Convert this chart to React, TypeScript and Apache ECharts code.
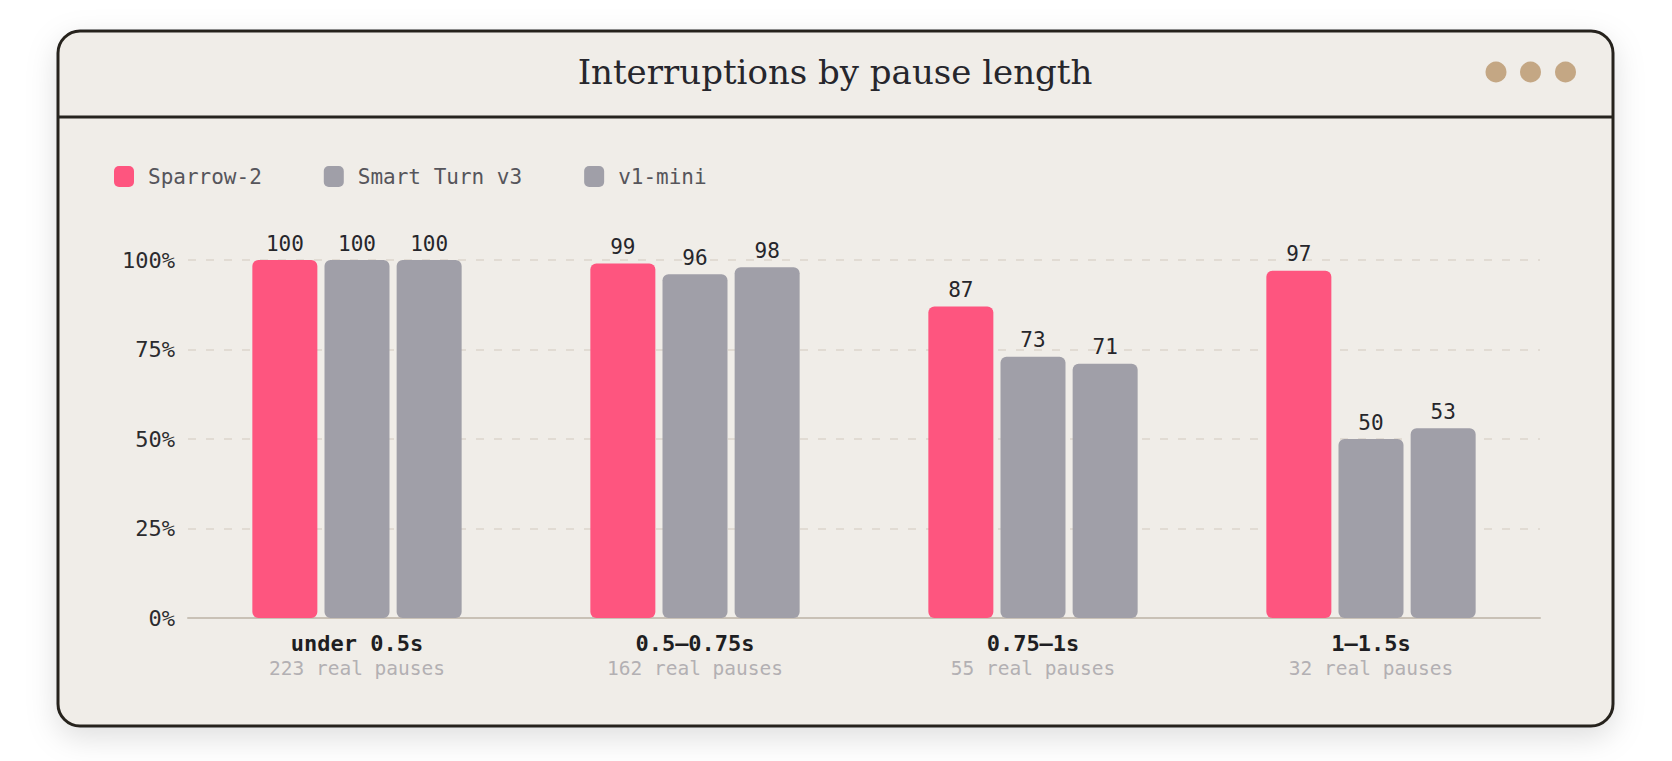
import React, { useEffect, useRef } from 'react';
import * as echarts from 'echarts';

const categories = ['under 0.5s', '0.5–0.75s', '0.75–1s', '1–1.5s'];
const pauseCounts = ['223 real pauses', '162 real pauses', '55 real pauses', '32 real pauses'];
const seriesNames = ['Sparrow-2', 'Smart Turn v3', 'v1-mini'];
const sparrow2 = [100, 99, 87, 97];
const smartTurnV3 = [100, 96, 73, 50];
const v1Mini = [100, 98, 71, 53];
const yMin = 0;
const yMax = 100;
const yInterval = 25;
const titleText = 'Interruptions by pause length';

const MONO = '"DejaVu Sans Mono", "Liberation Mono", monospace';
const SERIF = '"DejaVu Serif", "Liberation Serif", serif';
const PINK = '#fe557f';
const GRAY = '#a09fa8';

export default function App() {
  const ref = useRef<HTMLDivElement>(null);
  useEffect(() => {
    document.body.style.margin = '0';
    document.body.style.background = '#ffffff';
    const chart = echarts.init(ref.current!, undefined, { renderer: 'svg' });
    const seriesData = [sparrow2, smartTurnV3, v1Mini];
    const colors = [PINK, GRAY, GRAY];
    chart.setOption({
      animation: false,
      backgroundColor: '#ffffff',
      graphic: [
        {
          type: 'rect',
          z: -100,
          shape: { x: 58, y: 31, width: 1555, height: 695, r: 22 },
          style: {
            fill: '#f0ede8',
            stroke: '#26241f',
            lineWidth: 3,
            shadowBlur: 30,
            shadowOffsetY: 10,
            shadowColor: 'rgba(0,0,0,0.13)',
          },
        },
        {
          type: 'line',
          z: -50,
          shape: { x1: 58, y1: 117, x2: 1613, y2: 117 },
          style: { stroke: '#26241f', lineWidth: 3 },
        },
        {
          type: 'text',
          z: 10,
          x: 835,
          y: 72,
          style: {
            text: titleText,
            fill: '#26262c',
            font: `34px ${SERIF}`,
            textAlign: 'center',
            textVerticalAlign: 'middle',
          },
        },
        ...[1496, 1530.5, 1565.5].map((cx) => ({
          type: 'circle',
          z: 10,
          shape: { cx, cy: 72, r: 10.5 },
          style: { fill: '#c4a784' },
        })),
      ],
      legend: {
        left: 114,
        top: 166,
        padding: 0,
        itemWidth: 20,
        itemHeight: 21,
        itemGap: 62,
        icon: 'roundRect',
        data: seriesNames,
        textStyle: {
          fontFamily: MONO,
          fontSize: 21,
          color: '#56555b',
          padding: [0, 0, 0, 9],
          lineHeight: 21,
        },
      },
      grid: { left: 188, right: 132, top: 260, bottom: 143, containLabel: false },
      xAxis: {
        type: 'category',
        data: categories,
        axisLine: { show: true, lineStyle: { color: '#c9c1b6', width: 2 } },
        axisTick: { show: false },
        axisLabel: {
          margin: 12,
          formatter: (value: string, idx: number) => `{a|${value}}\n{b|${pauseCounts[idx]}}`,
          rich: {
            a: { fontFamily: MONO, fontWeight: 'bold', fontSize: 22, color: '#1e1e22', lineHeight: 26 },
            b: { fontFamily: MONO, fontSize: 19.5, color: '#b3b0b3', lineHeight: 24 },
          },
        },
      },
      yAxis: {
        type: 'value',
        min: yMin,
        max: yMax,
        interval: yInterval,
        axisLine: { show: false },
        axisTick: { show: false },
        axisLabel: {
          formatter: '{value}%',
          fontFamily: MONO,
          fontSize: 22,
          color: '#2b2b2e',
          margin: 13,
        },
        splitLine: { lineStyle: { color: '#dcd5cb', width: 1.5, type: [8, 10] } },
      },
      series: seriesNames.map((name, i) => ({
        name,
        type: 'bar',
        data: seriesData[i],
        barWidth: 65,
        barGap: '11%',
        itemStyle: { color: colors[i], borderRadius: 6 },
        label: {
          show: true,
          position: 'top',
          distance: 6,
          fontFamily: MONO,
          fontSize: 21,
          color: '#26262b',
        },
      })),
    });
    return () => chart.dispose();
  }, []);
  return <div ref={ref} style={{ width: 1672, height: 761 }} />;
}
